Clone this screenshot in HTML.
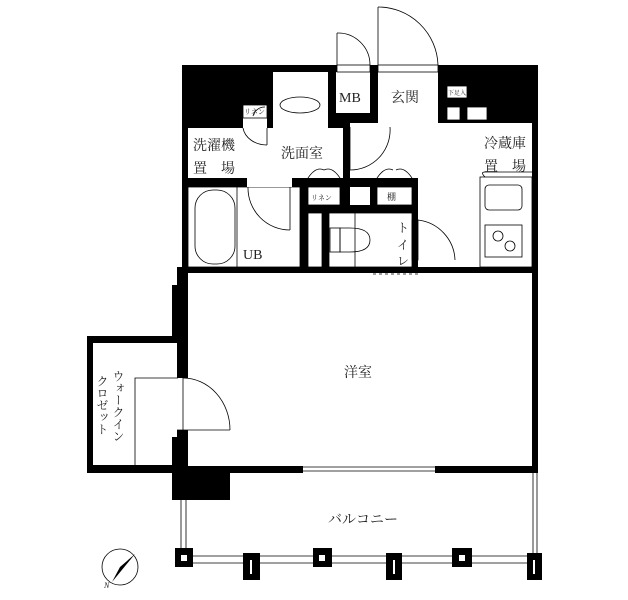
<!DOCTYPE html>
<html><head><meta charset="utf-8"><style>
html,body{margin:0;padding:0;background:#fff}
svg{display:block}
text{font-family:"Liberation Serif","Noto Serif CJK SC","Noto Sans CJK JP",serif;fill:#222}
</style></head><body>
<svg width="628" height="600" viewBox="0 0 628 600" xmlns="http://www.w3.org/2000/svg">
<g fill="#000">
<rect x="182" y="65" width="356" height="63"/>
<rect x="182" y="65" width="6" height="208"/>
<rect x="532" y="65" width="6" height="408"/>
<rect x="177" y="267" width="361" height="6"/>
<rect x="177" y="267" width="11" height="206"/>
<rect x="172" y="285" width="6" height="55"/>
<rect x="87" y="336" width="90" height="7"/>
<rect x="87" y="336" width="6" height="137"/>
<rect x="87" y="465" width="216" height="8"/>
<rect x="435" y="466" width="103" height="7"/>
<rect x="172" y="437" width="58" height="63"/>
<rect x="188" y="178" width="230" height="9"/>
<rect x="300" y="178" width="8" height="95"/>
<rect x="322" y="205" width="7" height="68"/>
<rect x="308" y="205" width="110" height="8"/>
<rect x="340" y="178" width="10" height="35"/>
<rect x="370" y="178" width="7" height="35"/>
<rect x="412" y="178" width="6" height="95"/>
<rect x="343" y="122" width="7" height="56"/>
</g>
<g fill="#fff" stroke="#000" stroke-width="0.8">
<rect x="273" y="72" width="55" height="56" stroke="none"/>
<rect x="188" y="128" width="155" height="50" stroke="none"/>
<rect x="336" y="72" width="34" height="41" stroke="none"/>
<rect x="378" y="72" width="60" height="51" stroke="none"/>
<rect x="350" y="128" width="182" height="50" stroke="none"/>
<rect x="418" y="123" width="114" height="144" stroke="none"/>
<rect x="350" y="123" width="88" height="10" stroke="none"/>
<rect x="243" y="118" width="24" height="10" stroke="none"/>
<rect x="243" y="105" width="24" height="13"/>
<rect x="447" y="86" width="20" height="12"/>
<rect x="447" y="107" width="13" height="13"/>
<rect x="467" y="107" width="20" height="13"/>
<rect x="188" y="187" width="112" height="80"/>
<rect x="308" y="187" width="32" height="18"/>
<rect x="350" y="187" width="20" height="18" stroke="none"/>
<rect x="377" y="187" width="35" height="18"/>
<rect x="308" y="213" width="14" height="54"/>
<rect x="329" y="213" width="83" height="54"/>
<rect x="93" y="343" width="79" height="122" stroke="none"/>
<rect x="188" y="273" width="344" height="193" stroke="none"/>
<rect x="177" y="378" width="11" height="52" stroke="none"/>
<rect x="337" y="65" width="33" height="7"/>
<rect x="378" y="65" width="60" height="7"/>
<rect x="247" y="178" width="45" height="9" stroke="none"/>
</g>
<g fill="none" stroke="#000" stroke-width="0.8">
<ellipse cx="300" cy="105" rx="20" ry="8"/>
<line x1="337" y1="33" x2="337" y2="65"/><path d="M337 33 A32 32 0 0 1 370 65"/>
<line x1="378" y1="7" x2="378" y2="65"/><path d="M378 7 A60 60 0 0 1 438 65"/>
<line x1="267" y1="128" x2="267" y2="145"/><path d="M243 128 A24 20 0 0 0 267 145"/>
<line x1="350" y1="127" x2="350" y2="170"/><path d="M390 127 A40 40 0 0 1 350 170"/>
<line x1="290" y1="187" x2="290" y2="230"/><path d="M248 187 A42 42 0 0 0 290 230"/>
<path d="M253 98 A12 12 0 0 1 265 86"/><path d="M253 116 A12 12 0 0 1 265 107"/>
<path d="M308 178 q8 -12 16 -8 M340 178 q-8 -12 -16 -8 M377 178 q8 -12 16 -8 M412 178 q-8 -12 -16 -8"/>
<rect x="195" y="190" width="40" height="74" rx="18"/>
<line x1="237" y1="187" x2="237" y2="267"/>
<line x1="355" y1="213" x2="355" y2="267"/>
<path d="M340 228 h10 q20 0 20 12 q0 12 -20 12 h-10 z"/><rect x="330" y="228" width="10" height="24"/>
<rect x="412" y="220" width="6" height="40"/>
<path d="M418 220 A42 42 0 0 1 455 260"/>
<rect x="480" y="177" width="52" height="90"/>
<path d="M485 177 q-5 -5 0 -5 h47"/>
<rect x="485" y="185" width="37" height="25" rx="4"/>
<rect x="485" y="225" width="37" height="32"/>
<circle cx="498" cy="236" r="5"/><circle cx="510" cy="246" r="5"/>
<line x1="420" y1="268" x2="470" y2="268"/><line x1="420" y1="272" x2="470" y2="272"/>
<line x1="373" y1="274" x2="420" y2="274" stroke-dasharray="3 3"/>
<path d="M135 465 V378 H178"/>
<line x1="183" y1="378" x2="183" y2="430"/><line x1="177" y1="430" x2="230" y2="430"/>
<path d="M183 378 A47 52 0 0 1 230 430"/>
<line x1="303" y1="467" x2="435" y2="467"/><line x1="303" y1="471" x2="435" y2="471"/>
<line x1="181" y1="500" x2="181" y2="556"/><line x1="186" y1="500" x2="186" y2="556"/>
<line x1="533" y1="473" x2="533" y2="556"/><line x1="537" y1="473" x2="537" y2="556"/>
<line x1="180" y1="556" x2="537" y2="556"/><line x1="180" y1="563" x2="537" y2="563"/>
<circle cx="120" cy="567" r="18"/>
</g>
<g fill="#000">
<rect x="175" y="548" width="18" height="19"/><rect x="313" y="548" width="19" height="19"/><rect x="452" y="548" width="20" height="19"/>
<rect x="243" y="553" width="17" height="27"/><rect x="386" y="553" width="16" height="27"/><rect x="527" y="553" width="15" height="27"/>
<path d="M120 567 L135 554 L112 582 Z"/>
</g>
<g fill="#fff">
<rect x="181" y="555" width="6" height="6"/><rect x="319" y="555" width="6" height="6"/><rect x="459" y="555" width="6" height="6"/>
<rect x="250" y="560" width="2" height="14"/><rect x="393" y="560" width="2" height="14"/><rect x="533" y="560" width="2" height="14"/>
</g>
<g font-size="14">
<text x="339" y="102" font-family="Liberation Serif">MB</text>
<text x="391" y="102">玄関</text>
<text x="193" y="150">洗濯機</text>
<text x="193" y="173">置　場</text>
<text x="281" y="158">洗面室</text>
<text x="484" y="148">冷蔵庫</text>
<text x="484" y="171">置　場</text>
<text x="243" y="259">UB</text>
<text x="344" y="377">洋室</text>
<text x="328" y="524">バルコニー</text>
</g>
<g font-size="7"><text x="244" y="114">リネン</text><text x="448" y="95" font-size="6">下足入</text><text x="311" y="200">リネン</text><text x="387" y="200" font-size="9">棚</text></g>
<g font-size="12"><text x="397" y="232">ト</text><text x="397" y="249">イ</text><text x="397" y="265">レ</text></g>
<g font-size="12"><text x="118" y="370" style="writing-mode:vertical-rl">ウォークイン</text><text x="102" y="375" style="writing-mode:vertical-rl">クロゼット</text></g>
<text x="104" y="588" font-size="8" font-style="italic">N</text>
</svg>
</body></html>
